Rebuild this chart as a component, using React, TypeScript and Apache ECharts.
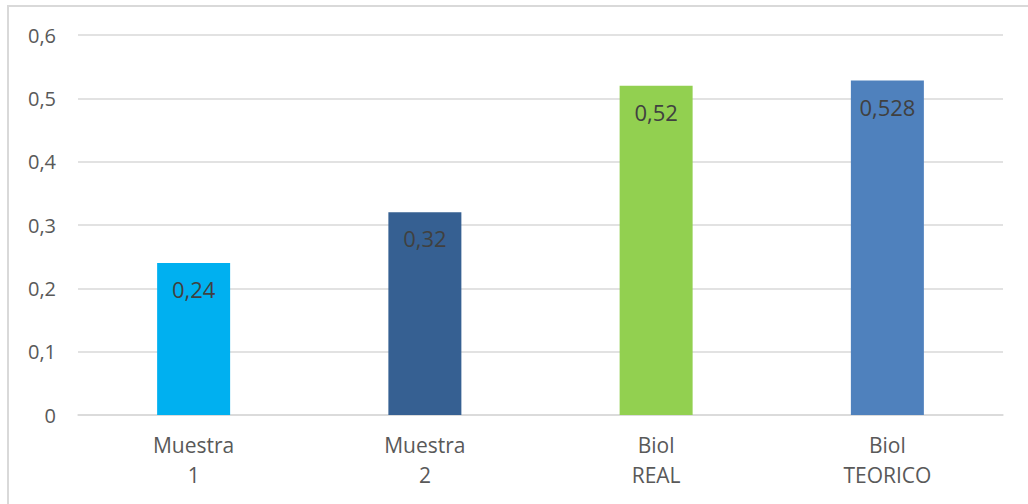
import React, { useEffect, useRef } from "react";
import * as echarts from "echarts";

// Categories, values and colours of the bar chart
const categories: string[] = ["Muestra\n1", "Muestra\n2", "Biol\nREAL", "Biol\nTEORICO"];
const values: number[] = [0.24, 0.32, 0.52, 0.528];
const barColors: string[] = ["#00B0F0", "#366092", "#92D050", "#4F81BD"];
const yTicks: number[] = [0, 0.1, 0.2, 0.3, 0.4, 0.5, 0.6];

const FONT = "'Open Sans', 'Liberation Sans', sans-serif";

const fmt = (v: number) => String(v).replace(".", ",");

export default function App() {
  const ref = useRef<HTMLDivElement | null>(null);

  useEffect(() => {
    if (!ref.current) return;
    const chart = echarts.init(ref.current, undefined, { renderer: "svg" });
    chart.setOption({
      animation: false,
      backgroundColor: "#ffffff",
      graphic: [
        {
          type: "rect",
          shape: { x: 8, y: 6, width: 1200, height: 700 },
          style: { fill: "none", stroke: "#D9D9D9", lineWidth: 2 },
          silent: true,
        },
      ],
      grid: { left: 78, right: 25, top: 35, bottom: 89, containLabel: false },
      xAxis: {
        type: "category",
        data: categories,
        axisLine: { show: true, lineStyle: { color: "#D9D9D9", width: 1.5 } },
        axisTick: { show: false },
        axisLabel: {
          color: "#595959",
          fontFamily: FONT,
          fontSize: 21,
          lineHeight: 30,
          margin: 15,
        },
      },
      yAxis: {
        type: "value",
        min: yTicks[0],
        max: yTicks[yTicks.length - 1],
        interval: 0.1,
        axisLine: { show: false },
        axisTick: { show: false },
        splitLine: { lineStyle: { color: "#D9D9D9", width: 1.5 } },
        axisLabel: {
          color: "#595959",
          fontFamily: FONT,
          fontSize: 20,
          margin: 22,
          formatter: (v: number) => fmt(Math.round(v * 10) / 10),
        },
      },
      series: [
        {
          type: "bar",
          barWidth: 73,
          data: values.map((v, i) => ({ value: v, itemStyle: { color: barColors[i] } })),
          label: {
            show: true,
            position: "insideTop",
            distance: 15,
            color: "#404040",
            fontFamily: FONT,
            fontSize: 22,
            formatter: (p: any) => fmt(p.value),
          },
        },
      ],
    });
    return () => chart.dispose();
  }, []);

  return (
    <div
      ref={ref}
      style={{ position: "absolute", left: 0, top: 0, width: 1028, height: 504 }}
    />
  );
}
